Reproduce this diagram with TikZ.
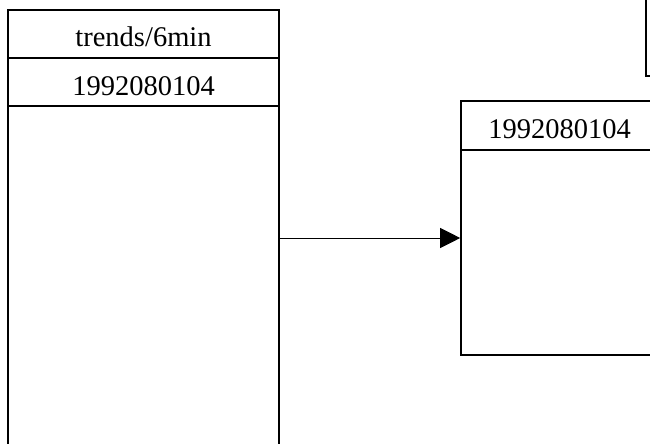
\documentclass[tikz,border=0pt]{standalone}
\usepackage{fontspec}
\setmainfont{Liberation Serif}
\usetikzlibrary{arrows.meta}

\begin{document}
\begin{tikzpicture}[x=1pt,y=-1pt,
	  box/.style={draw,line width=1.6pt,rectangle,inner sep=0pt},
	  field/.style={box,minimum height=48pt,text height=26pt,text depth=0pt,
	    font=\fontsize{28.5}{30}\selectfont}]
	  \useasboundingbox (0,0) rectangle (650,444);
	  \clip (0,0) rectangle (650,444);
	  % table on the left
	  \node[box,minimum width=271pt,minimum height=450pt] (trends) at (143.5,235) {};
	  \node[field,minimum width=271pt] (trendsname) at (143.5,34) {trends/6min};
	  \node[field,minimum width=271pt] (trendsrow) at (143.5,82) {1992080104};
	  % record on the right
	  \node[box,minimum width=197pt,minimum height=254pt] (record) at (559.5,228) {};
	  \node[field,minimum width=197pt,minimum height=49pt] (recordname) at (559.5,125.5) {1992080104};
	  \node[box,minimum width=74pt,minimum height=96pt] (corner) at (683,28) {};
	  % link
	  \coordinate (link) at (0,238);
	  \draw[line width=1pt,-{Triangle[length=20pt,width=20pt]}] (trends.east |- link) -- (record.west |- link);
	\end{tikzpicture}
\end{document}
